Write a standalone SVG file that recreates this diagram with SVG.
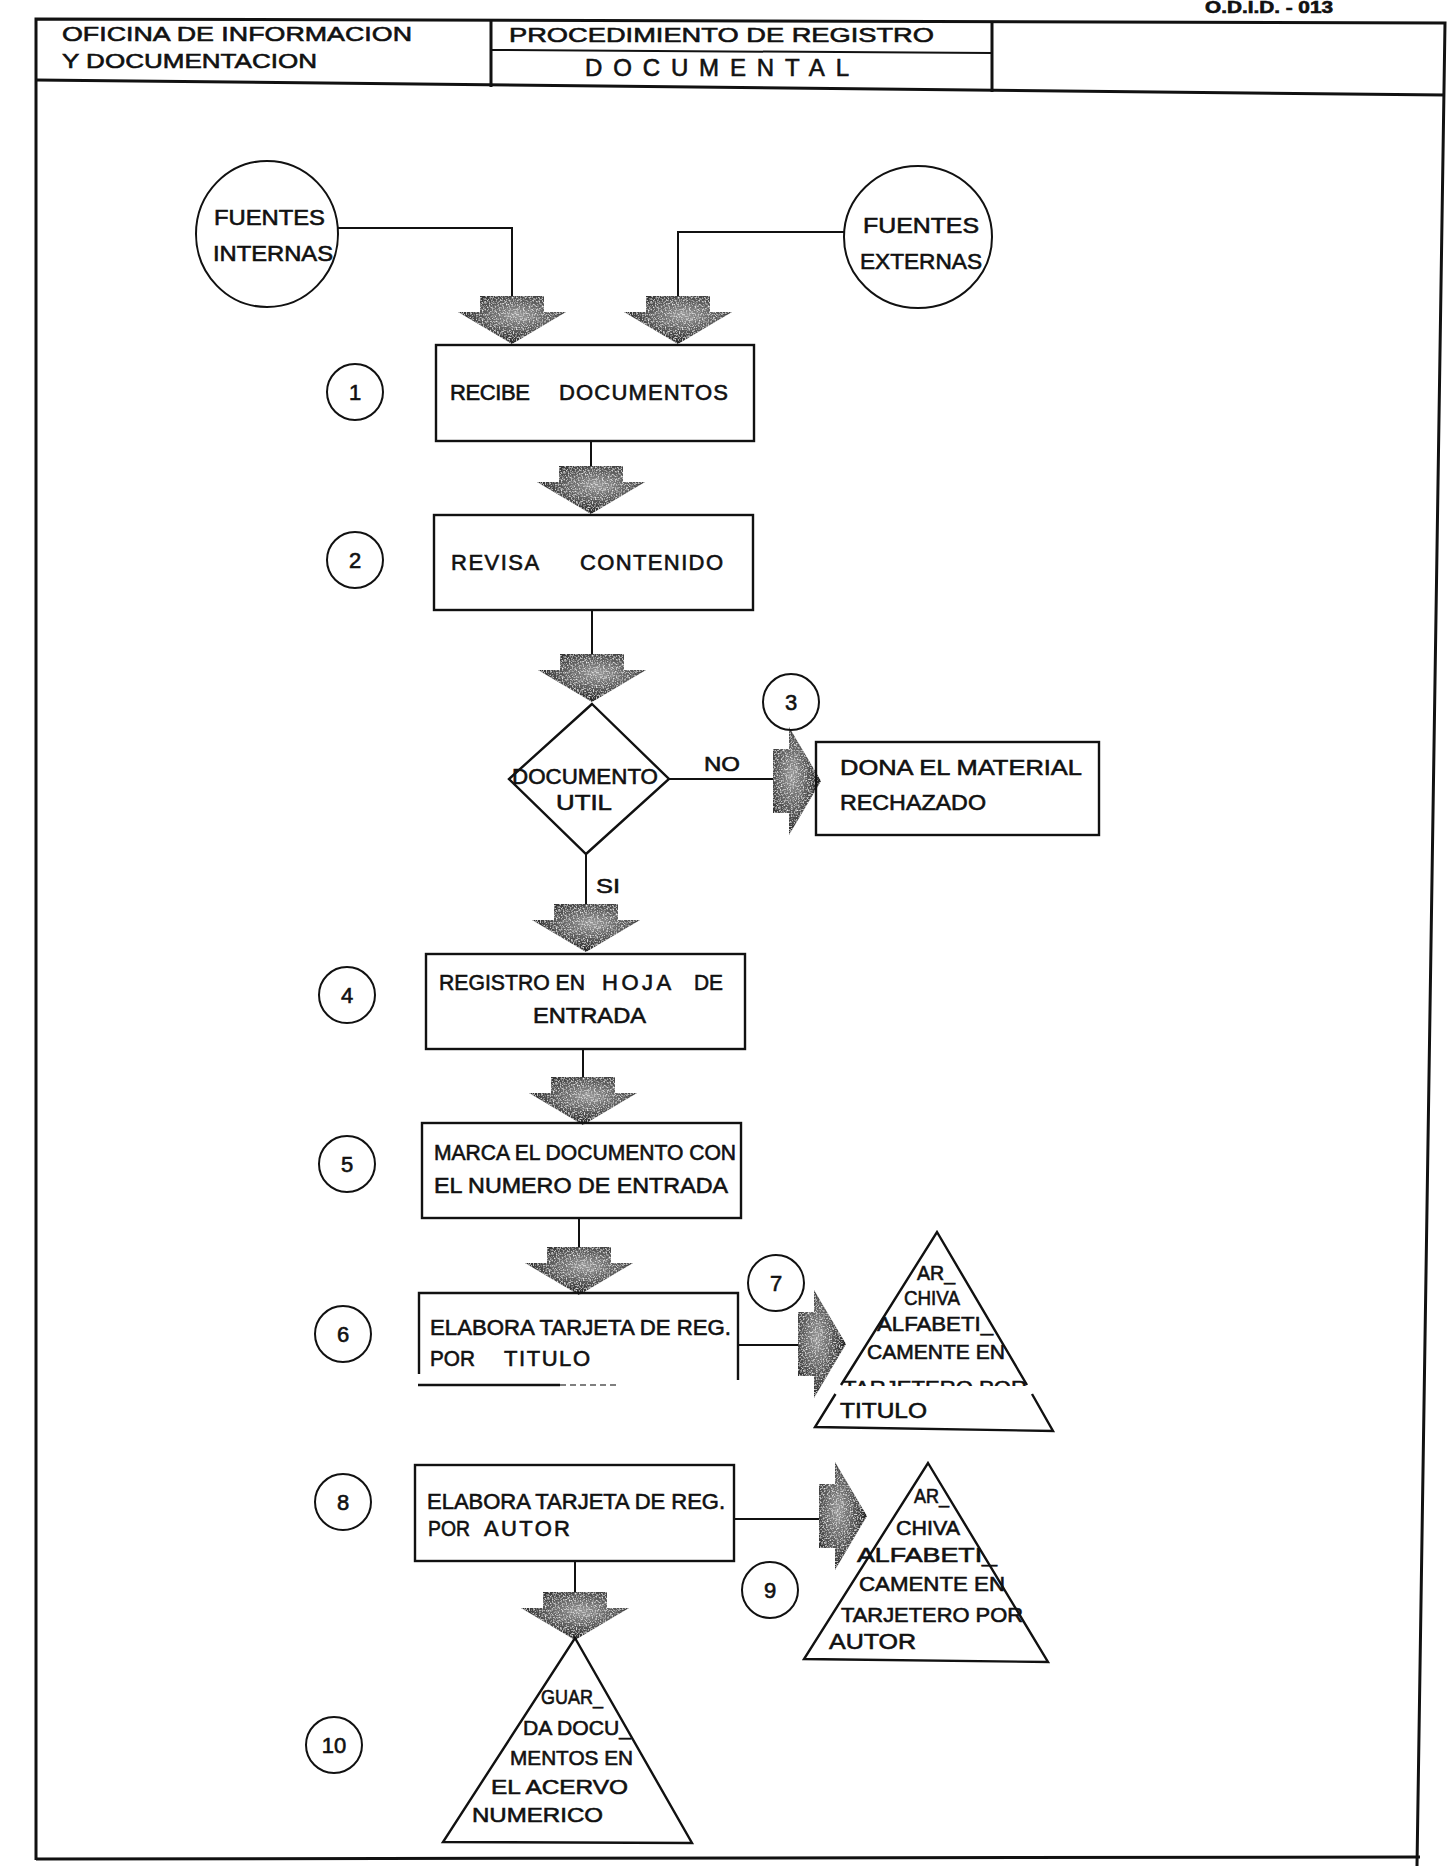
<svg xmlns="http://www.w3.org/2000/svg" width="1448" height="1866" viewBox="0 0 1448 1866">
<style>
text{font-family:"Liberation Sans",Arial,sans-serif;fill:#111;stroke:#111;stroke-width:0.6px;}
.t{font-size:22px;}
.s{font-size:21px;}
.h{font-size:21px;}
.n{font-size:22px;text-anchor:middle;}
.box{fill:none;stroke:#111;stroke-width:2.4;}
.ln{fill:none;stroke:#111;stroke-width:2;}
.frame{fill:none;stroke:#111;stroke-width:3;}
.circ{fill:none;stroke:#111;stroke-width:2;}
.arr{fill:url(#shade);filter:url(#speck);}
</style>
<defs>
<radialGradient id="shade" cx="0.55" cy="0.4" r="0.62">
<stop offset="0" stop-color="#9a9a9a"/>
<stop offset="0.5" stop-color="#5c5c5c"/>
<stop offset="1" stop-color="#1c1c1c"/>
</radialGradient>
<filter id="speck" x="0" y="0" width="1" height="1">
<feTurbulence type="fractalNoise" baseFrequency="0.7" numOctaves="2" seed="3" result="n"/>
<feColorMatrix in="n" type="matrix" values="0 0 0 0 1  0 0 0 0 1  0 0 0 0 1  2.2 0 0 0 -1.05" result="w"/>
<feComposite in="w" in2="SourceGraphic" operator="in" result="ws"/>
<feMerge><feMergeNode in="SourceGraphic"/><feMergeNode in="ws"/></feMerge>
</filter>
<path id="da" d="M-32,0 H32 V16 H54 L0,48 L-54,16 H-32 Z"/>
<clipPath id="cut"><rect x="800" y="1360" width="260" height="26"/></clipPath>
</defs>

<g id="frame">
<polyline class="frame" points="36,1860 36,19 1445,23 1417,1866"/>
<line class="frame" x1="36" y1="80" x2="1445" y2="95"/>
<line class="frame" x1="491" y1="20" x2="491" y2="87"/>
<line class="frame" x1="992" y1="22" x2="992" y2="92"/>
<line class="ln" x1="491" y1="50" x2="992" y2="53"/>
<line class="frame" x1="36" y1="1859" x2="1420" y2="1857"/>
<text x="1205" y="13" style="font-size:16px;font-weight:bold" textLength="128" lengthAdjust="spacingAndGlyphs">O.D.I.D. - 013</text>
<text class="h" x="62" y="41" textLength="350" lengthAdjust="spacingAndGlyphs">OFICINA DE INFORMACION</text>
<text class="h" x="62" y="68" textLength="255" lengthAdjust="spacingAndGlyphs">Y DOCUMENTACION</text>
<text class="h" x="509" y="42" textLength="425" lengthAdjust="spacingAndGlyphs">PROCEDIMIENTO DE REGISTRO</text>
<text x="585" y="76" style="font-size:24px" textLength="264" lengthAdjust="spacing">DOCUMENTAL</text>
</g>

<g id="connectors">
<polyline class="ln" points="338,228 512,228 512,298"/>
<polyline class="ln" points="844,232 678,232 678,298"/>
<line class="ln" x1="591" y1="441" x2="591" y2="468"/>
<line class="ln" x1="592" y1="610" x2="592" y2="654"/>
<line class="ln" x1="669" y1="779" x2="774" y2="779"/>
<line class="ln" x1="586" y1="854" x2="586" y2="906"/>
<line class="ln" x1="583" y1="1049" x2="583" y2="1079"/>
<line class="ln" x1="579" y1="1218" x2="579" y2="1249"/>
<line class="ln" x1="738" y1="1345" x2="800" y2="1345"/>
<line class="ln" x1="734" y1="1519" x2="820" y2="1519"/>
<line class="ln" x1="575" y1="1561" x2="575" y2="1595"/>
<use href="#da" class="arr" transform="translate(512,296)"/>
<use href="#da" class="arr" transform="translate(678,296)"/>
<use href="#da" class="arr" transform="translate(591,466)"/>
<use href="#da" class="arr" transform="translate(592,654)"/>
<use href="#da" class="arr" transform="translate(773,781) rotate(-90)"/>
<use href="#da" class="arr" transform="translate(586,904)"/>
<use href="#da" class="arr" transform="translate(583,1077)"/>
<use href="#da" class="arr" transform="translate(579,1247)"/>
<use href="#da" class="arr" transform="translate(798,1344) rotate(-90)"/>
<use href="#da" class="arr" transform="translate(819,1516) rotate(-90)"/>
<use href="#da" class="arr" transform="translate(575,1592)"/>
<text class="h" x="704" y="771" textLength="36" lengthAdjust="spacingAndGlyphs">NO</text>
<text class="h" x="596" y="893" textLength="24" lengthAdjust="spacingAndGlyphs">SI</text>
</g>

<g id="fuentes-internas">
<ellipse class="circ" cx="267" cy="234" rx="71" ry="73"/>
<text class="t" x="214" y="225" textLength="111" lengthAdjust="spacingAndGlyphs">FUENTES</text>
<text class="t" x="213" y="261" textLength="120" lengthAdjust="spacingAndGlyphs">INTERNAS</text>
</g>

<g id="fuentes-externas">
<ellipse class="circ" cx="918" cy="237" rx="74" ry="71"/>
<text class="t" x="863" y="233" textLength="116" lengthAdjust="spacingAndGlyphs">FUENTES</text>
<text class="t" x="860" y="269" textLength="122" lengthAdjust="spacingAndGlyphs">EXTERNAS</text>
</g>

<g id="step1">
<circle class="circ" cx="355" cy="392" r="28"/>
<text class="n" x="355" y="400">1</text>
<rect class="box" x="436" y="345" width="318" height="96"/>
<text class="t" y="400"><tspan x="450" textLength="80" lengthAdjust="spacing">RECIBE</tspan> <tspan x="559" textLength="169" lengthAdjust="spacing">DOCUMENTOS</tspan></text>
</g>

<g id="step2">
<circle class="circ" cx="355" cy="560" r="28"/>
<text class="n" x="355" y="568">2</text>
<rect class="box" x="434" y="515" width="319" height="95"/>
<text class="t" y="570"><tspan x="451" textLength="87" lengthAdjust="spacing">REVISA</tspan> <tspan x="580" textLength="143" lengthAdjust="spacing">CONTENIDO</tspan></text>
</g>

<g id="decision">
<polygon class="box" points="592,704 669,779 586,854 509,779"/>
<text class="t" x="512" y="784" textLength="146" lengthAdjust="spacingAndGlyphs">DOCUMENTO</text>
<text class="t" x="556" y="810" textLength="56" lengthAdjust="spacingAndGlyphs">UTIL</text>
</g>

<g id="step3">
<circle class="circ" cx="791" cy="702" r="28"/>
<text class="n" x="791" y="710">3</text>
<rect class="box" x="816" y="742" width="283" height="93"/>
<text class="t" x="840" y="775" textLength="242" lengthAdjust="spacingAndGlyphs">DONA EL MATERIAL</text>
<text class="t" x="840" y="810" textLength="146" lengthAdjust="spacingAndGlyphs">RECHAZADO</text>
</g>

<g id="step4">
<circle class="circ" cx="347" cy="995" r="28"/>
<text class="n" x="347" y="1003">4</text>
<rect class="box" x="426" y="954" width="319" height="95"/>
<text class="t" y="990"><tspan x="439" textLength="146" lengthAdjust="spacingAndGlyphs">REGISTRO EN</tspan> <tspan x="602" textLength="68" lengthAdjust="spacing">HOJA</tspan> <tspan x="694" textLength="29" lengthAdjust="spacingAndGlyphs">DE</tspan></text>
<text class="t" x="533" y="1023" textLength="113" lengthAdjust="spacingAndGlyphs">ENTRADA</text>
</g>

<g id="step5">
<circle class="circ" cx="347" cy="1164" r="28"/>
<text class="n" x="347" y="1172">5</text>
<rect class="box" x="422" y="1123" width="319" height="95"/>
<text class="t" x="434" y="1160" textLength="302" lengthAdjust="spacingAndGlyphs">MARCA EL DOCUMENTO CON</text>
<text class="t" x="434" y="1193" textLength="294" lengthAdjust="spacingAndGlyphs">EL NUMERO DE ENTRADA</text>
</g>

<g id="step6">
<circle class="circ" cx="343" cy="1334" r="28"/>
<text class="n" x="343" y="1342">6</text>
<polyline class="box" points="419,1374 419,1293 738,1293 738,1380"/>
<line class="box" x1="418" y1="1385" x2="560" y2="1385"/>
<line x1="560" y1="1385" x2="620" y2="1385" stroke="#555" stroke-width="1.5" stroke-dasharray="6 4"/>
<text class="t" x="430" y="1335" textLength="301" lengthAdjust="spacingAndGlyphs">ELABORA TARJETA DE REG.</text>
<text class="t" y="1366"><tspan x="430" textLength="45" lengthAdjust="spacingAndGlyphs">POR</tspan> <tspan x="504" textLength="86" lengthAdjust="spacing">TITULO</tspan></text>
</g>

<g id="step7">
<circle class="circ" cx="776" cy="1283" r="28"/>
<text class="n" x="776" y="1291">7</text>
<path class="box" d="M841,1385 L937,1232 L1027,1385 M835.5,1394 L815,1427 L1053,1431 L1032,1394"/>
<text class="s" x="917" y="1280" textLength="38" lengthAdjust="spacingAndGlyphs">AR_</text>
<text class="s" x="904" y="1305" textLength="56" lengthAdjust="spacingAndGlyphs">CHIVA</text>
<text class="s" x="877" y="1331" textLength="116" lengthAdjust="spacingAndGlyphs">ALFABETI_</text>
<text class="s" x="867" y="1359" textLength="138" lengthAdjust="spacingAndGlyphs">CAMENTE EN</text>
<text class="s" x="843" y="1395" textLength="184" lengthAdjust="spacingAndGlyphs" clip-path="url(#cut)">TARJETERO POR</text>
<text class="t" x="840" y="1418" textLength="87" lengthAdjust="spacingAndGlyphs">TITULO</text>
</g>

<g id="step8">
<circle class="circ" cx="343" cy="1502" r="28"/>
<text class="n" x="343" y="1510">8</text>
<rect class="box" x="415" y="1465" width="319" height="96"/>
<text class="t" x="427" y="1509" textLength="298" lengthAdjust="spacingAndGlyphs">ELABORA TARJETA DE REG.</text>
<text class="t" y="1536"><tspan x="428" textLength="42" lengthAdjust="spacingAndGlyphs">POR</tspan> <tspan x="484" textLength="86" lengthAdjust="spacing">AUTOR</tspan></text>
</g>

<g id="step9">
<circle class="circ" cx="770" cy="1590" r="28"/>
<text class="n" x="770" y="1598">9</text>
<polygon class="box" points="928,1463 1048,1662 804,1659"/>
<text class="s" x="914" y="1503" textLength="35" lengthAdjust="spacingAndGlyphs">AR_</text>
<text class="s" x="896" y="1535" textLength="64" lengthAdjust="spacingAndGlyphs">CHIVA</text>
<text class="s" x="857" y="1562" textLength="140" lengthAdjust="spacingAndGlyphs">ALFABETI_</text>
<text class="s" x="859" y="1591" textLength="146" lengthAdjust="spacingAndGlyphs">CAMENTE EN</text>
<text class="s" x="841" y="1622" textLength="182" lengthAdjust="spacingAndGlyphs">TARJETERO POR</text>
<text class="t" x="829" y="1649" textLength="87" lengthAdjust="spacingAndGlyphs">AUTOR</text>
</g>

<g id="step10">
<circle class="circ" cx="334" cy="1745" r="28"/>
<text class="n" x="334" y="1753">10</text>
<polygon class="box" points="575,1638 692,1843 443,1842"/>
<text class="s" x="541" y="1704" textLength="62" lengthAdjust="spacingAndGlyphs">GUAR_</text>
<text class="s" x="523" y="1735" textLength="108" lengthAdjust="spacingAndGlyphs">DA DOCU_</text>
<text class="s" x="510" y="1765" textLength="123" lengthAdjust="spacingAndGlyphs">MENTOS EN</text>
<text class="s" x="491" y="1794" textLength="137" lengthAdjust="spacingAndGlyphs">EL ACERVO</text>
<text class="s" x="472" y="1822" textLength="131" lengthAdjust="spacingAndGlyphs">NUMERICO</text>
</g>
</svg>
